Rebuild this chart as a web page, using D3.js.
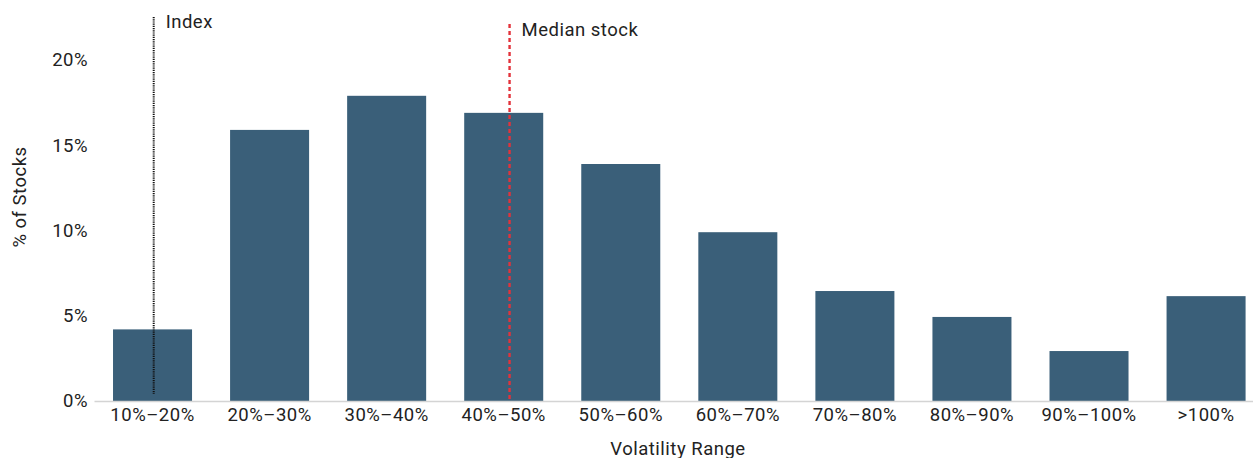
<!DOCTYPE html>
<html><head><meta charset="utf-8">
<script src="https://cdn.jsdelivr.net/npm/d3@7"></script>
<style>body{margin:0;background:#fff;}svg{display:block;font-family:Roboto,"DejaVu Sans",sans-serif;}</style>
</head><body>
<svg id="c" width="1253" height="458"></svg>
<script>
const categories = ["10%\u201320%","20%\u201330%","30%\u201340%","40%\u201350%","50%\u201360%","60%\u201370%","70%\u201380%","80%\u201390%","90%\u2013100%",">100%"];
const values = [4.2, 15.9, 17.9, 16.9, 13.9, 9.9, 6.45, 4.93, 2.93, 6.15];
const yTicks = [0, 5, 10, 15, 20];
const refLabels = ["Index", "Median stock"];
const refVols = [15.1, 45.5];   // volatility (%) of the reference lines
const binCenters = [15, 25, 35, 45, 55, 65, 75, 85, 95, 105];

const FS = 18.5, LS = "0.5px";
const svg = d3.select("#c");
const x = d3.scaleBand().domain(categories).range([94, 1264.6]).paddingInner(0.325).paddingOuter(0.1625);
const y = d3.scaleLinear().domain([0, 20]).range([401, 60]);
const xv = d3.scaleLinear().domain([binCenters[0], binCenters[9]])
  .range([x(categories[0]) + x.bandwidth()/2, x(categories[9]) + x.bandwidth()/2]);

// bars
svg.append("g").selectAll("rect").data(values).join("rect")
  .attr("x", (d,i) => x(categories[i]))
  .attr("y", d => y(d))
  .attr("width", x.bandwidth())
  .attr("height", d => y(0) - y(d))
  .attr("fill", "#3a5f79");

function styleText(sel){ sel.attr("font-size", FS).attr("fill", "#222").attr("font-family", "Roboto").style("letter-spacing", LS); }

// x axis
const xa = svg.append("g").attr("transform", `translate(0,${y(0)})`)
  .call(d3.axisBottom(x).tickSize(0).tickPadding(7));
xa.select(".domain").attr("stroke", "#d4d4d4").attr("stroke-width", 1.3);
styleText(xa.selectAll("text"));

// y axis
const ya = svg.append("g").attr("transform", "translate(88,0)")
  .call(d3.axisLeft(y).tickValues(yTicks).tickFormat(d => d + "%").tickSize(0).tickPadding(0));
ya.select(".domain").remove();
styleText(ya.selectAll("text"));

// axis titles
styleText(svg.append("text").attr("transform", "translate(26,197) rotate(-90)")
  .attr("text-anchor", "middle").text("% of Stocks"));
styleText(svg.append("text").attr("x", 678).attr("y", 455)
  .attr("text-anchor", "middle").text("Volatility Range"));

// reference lines
const refs = [
  {label: refLabels[0], vol: refVols[0], top: 17, bottom: 394, color: "#111", dash: "1.2,1", w: 2, ty: 28},
  {label: refLabels[1], vol: refVols[1], top: 24, bottom: 401, color: "#e3323b", dash: "4,3", w: 2.4, ty: 36}
];
refs.forEach(r => {
  const px = xv(r.vol);
  svg.append("line").attr("x1", px).attr("x2", px).attr("y1", r.top).attr("y2", r.bottom)
    .attr("stroke", r.color).attr("stroke-width", r.w).attr("stroke-dasharray", r.dash);
  styleText(svg.append("text").attr("x", px + 12).attr("y", r.ty).text(r.label));
});
</script>
</body></html>
